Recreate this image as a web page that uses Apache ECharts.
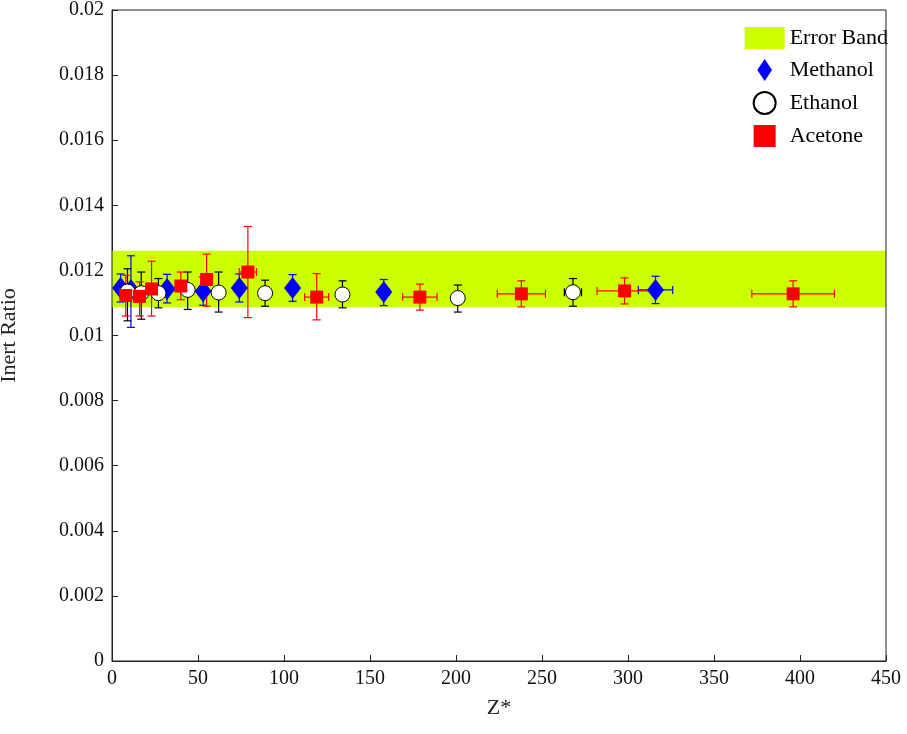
<!DOCTYPE html>
<html>
<head>
<meta charset="UTF-8">
<script src="https://cdn.jsdelivr.net/npm/echarts@6/dist/echarts.min.js"></script>
</head>
<body style="margin:0">
<div id="main" style="width:907px;height:734px"></div>
<script>
// [x, y, yLow, yHigh, xErr]
var methanol = [
  [5, 0.01146, 0.01103, 0.01189, 0],
  [11, 0.01140, 0.01025, 0.01245, 0],
  [32, 0.01143, 0.01100, 0.01188, 0],
  [53, 0.01136, 0.01093, 0.01180, 0],
  [74, 0.01146, 0.01103, 0.01189, 0],
  [105, 0.01146, 0.01105, 0.01187, 3],
  [158, 0.01134, 0.01092, 0.01172, 3],
  [316, 0.01140, 0.01098, 0.01182, 10]
];
var ethanol = [
  [9, 0.01135, 0.01045, 0.01205, 0],
  [17, 0.01130, 0.01050, 0.01195, 0],
  [27, 0.01130, 0.01085, 0.01175, 0],
  [44, 0.01140, 0.01080, 0.01195, 0],
  [62, 0.01132, 0.01072, 0.01195, 0],
  [89, 0.01130, 0.01090, 0.01170, 0],
  [134, 0.01126, 0.01085, 0.01168, 0],
  [201, 0.01115, 0.01072, 0.01155, 3],
  [268, 0.01133, 0.01090, 0.01175, 5]
];
var acetone = [
  [8, 0.01123, 0.01060, 0.01185, 0],
  [16, 0.01120, 0.01060, 0.01165, 0],
  [23, 0.01143, 0.01060, 0.01228, 0],
  [40, 0.01152, 0.01110, 0.01195, 0],
  [55, 0.01172, 0.01090, 0.01250, 0],
  [79, 0.01195, 0.01055, 0.01335, 5],
  [119, 0.01118, 0.01048, 0.01190, 7],
  [179, 0.01118, 0.01078, 0.01158, 10],
  [238, 0.01128, 0.01088, 0.01168, 14],
  [298, 0.01137, 0.01097, 0.01177, 16],
  [396, 0.01128, 0.01088, 0.01168, 24]
];
var bandLow = 0.01087, bandHigh = 0.01260;
var font = 'Liberation Serif';

function errSeries(data, color) {
  return {
    type: 'custom', silent: true, z: 3,
    data: data,
    renderItem: function (params, api) {
      var x = api.value(0), y = api.value(1), lo = api.value(2), hi = api.value(3), xe = api.value(4);
      var c = 4, st = {stroke: color, lineWidth: 1.2};
      var pHi = api.coord([x, hi]), pLo = api.coord([x, lo]);
      var kids = [
        {type: 'line', shape: {x1: pHi[0], y1: pHi[1], x2: pLo[0], y2: pLo[1]}, style: st},
        {type: 'line', shape: {x1: pHi[0] - c, y1: pHi[1], x2: pHi[0] + c, y2: pHi[1]}, style: st},
        {type: 'line', shape: {x1: pLo[0] - c, y1: pLo[1], x2: pLo[0] + c, y2: pLo[1]}, style: st}
      ];
      if (xe > 0) {
        var pL = api.coord([x - xe, y]), pR = api.coord([x + xe, y]);
        kids.push({type: 'line', shape: {x1: pL[0], y1: pL[1], x2: pR[0], y2: pR[1]}, style: st});
        kids.push({type: 'line', shape: {x1: pL[0], y1: pL[1] - c, x2: pL[0], y2: pL[1] + c}, style: st});
        kids.push({type: 'line', shape: {x1: pR[0], y1: pR[1] - c, x2: pR[0], y2: pR[1] + c}, style: st});
      }
      return {type: 'group', children: kids};
    }
  };
}

var chart = echarts.init(document.getElementById('main'));
chart.setOption({
  animation: false,
  textStyle: {fontFamily: font},
  grid: {left: 112, right: 21, top: 10, bottom: 73, containLabel: false, outerBoundsMode: 'none'},
  legend: {
    orient: 'vertical', right: 14, top: 22, itemGap: 10,
    textStyle: {fontFamily: font, fontSize: 22, color: '#000'},
    itemWidth: 40, itemHeight: 22,
    data: [
      {name: 'Error Band', icon: 'rect'},
      {name: 'Methanol', icon: 'path://M5,0L9,6L5,12L1,6Z'},
      {name: 'Ethanol', icon: 'path://M6,0A6,6 0 1 1 5.99,0Z'},
      {name: 'Acetone', icon: 'path://M0,0H10V10H0Z'}
    ]
  },
  xAxis: {
    type: 'value', min: 0, max: 450, interval: 50,
    name: 'Z*', nameLocation: 'middle', nameGap: 36,
    nameTextStyle: {fontFamily: font, fontSize: 22, color: '#222'},
    axisLine: {lineStyle: {color: '#222'}},
    axisTick: {inside: true, length: 6},
    axisLabel: {fontFamily: font, fontSize: 20, color: '#111'},
    splitLine: {show: false}
  },
  yAxis: {
    type: 'value', min: 0, max: 0.02, interval: 0.002,
    name: 'Inert Ratio', nameLocation: 'middle', nameGap: 92,
    nameTextStyle: {fontFamily: font, fontSize: 22, color: '#222'},
    axisLine: {show: true, lineStyle: {color: '#222'}},
    axisTick: {show: true, inside: true, length: 6},
    axisLabel: {fontFamily: font, fontSize: 20, color: '#111'},
    splitLine: {show: false}
  },
  series: [
    {
      name: 'Error Band', type: 'custom', z: 1,
      itemStyle: {color: '#ccff00'},
      data: [[0, 450, bandLow, bandHigh]],
      renderItem: function (params, api) {
        var a = api.coord([api.value(0), api.value(3)]), b = api.coord([api.value(1), api.value(2)]);
        return {type: 'rect', shape: {x: a[0], y: a[1], width: b[0] - a[0], height: b[1] - a[1]}, style: {fill: '#ccff00'}};
      }
    },
    errSeries(methanol, '#0000ff'),
    errSeries(ethanol, '#000000'),
    errSeries(acetone, '#ff0000'),
    {name: 'Methanol', type: 'scatter', symbol: 'diamond', symbolSize: [17, 22], z: 4,
      itemStyle: {color: '#0000ff', opacity: 1}, data: methanol.map(function (d) { return [d[0], d[1]]; })},
    {name: 'Ethanol', type: 'scatter', symbol: 'circle', symbolSize: 15, z: 5,
      itemStyle: {color: '#fff', borderColor: '#000', borderWidth: 1, opacity: 1}, data: ethanol.map(function (d) { return [d[0], d[1]]; })},
    {name: 'Acetone', type: 'scatter', symbol: 'rect', symbolSize: 13, z: 6,
      itemStyle: {color: '#ff0000', opacity: 1}, data: acetone.map(function (d) { return [d[0], d[1]]; })}
  ],
  graphic: [{type: 'rect', shape: {x: 112, y: 10, width: 774, height: 651}, style: {fill: 'none', stroke: '#222', lineWidth: 1}, z: 10}]
});
</script>
</body>
</html>
